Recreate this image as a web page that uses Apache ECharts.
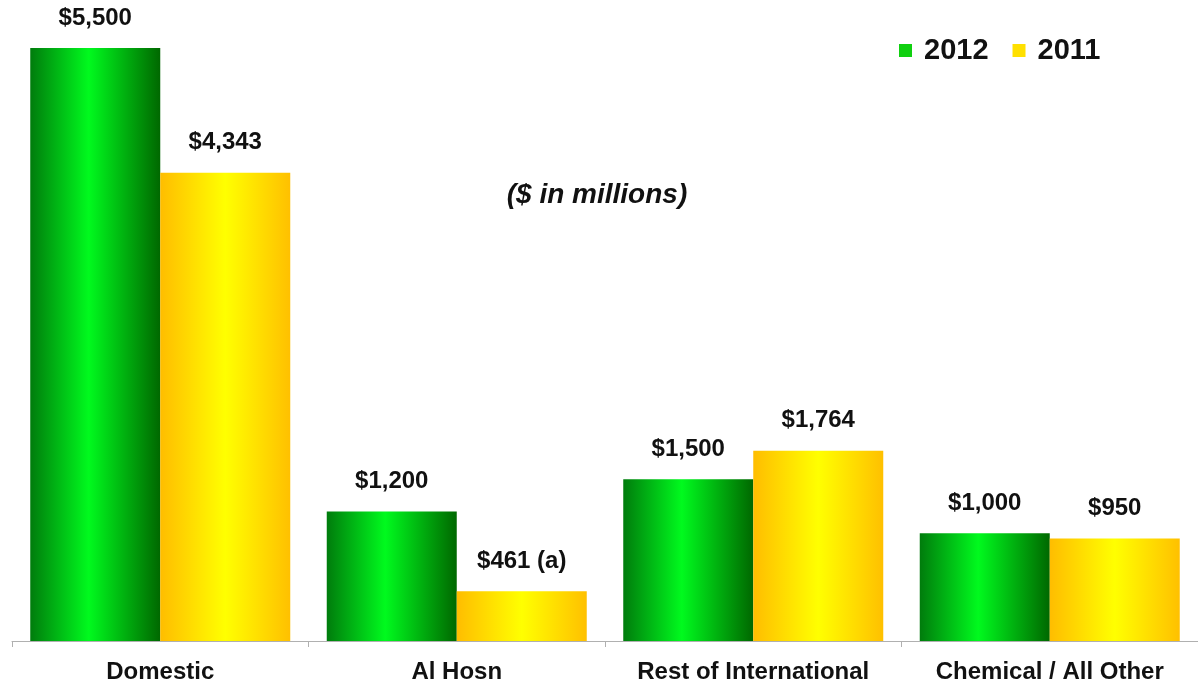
<!DOCTYPE html>
<html>
<head>
<meta charset="utf-8">
<script src="https://cdn.jsdelivr.net/npm/echarts@6/dist/echarts.min.js"></script>
<style>
  html, body { margin: 0; padding: 0; background: #fff; }
  #chart { width: 1198px; height: 688px; }
</style>
</head>
<body>
<div id="chart"></div>
<script>
// Segment capital spending, $ in millions
const categories = ['Domestic', 'Al Hosn', 'Rest of International', 'Chemical / All Other'];
const values2012 = [5500, 1200, 1500, 1000];
const values2011 = [4343, 461, 1764, 950];
const labels2011 = ['$4,343', '$461 (a)', '$1,764', '$950'];

const FONT = '"Liberation Sans", Arial, Helvetica, sans-serif';

function money(v) {
  return '$' + v.toLocaleString('en-US');
}

// Horizontal shading across each bar
const greenFill = new echarts.graphic.LinearGradient(0, 0, 1, 0, [
  { offset: 0, color: '#007c0c' },
  { offset: 0.45, color: '#00fa1e' },
  { offset: 1, color: '#006800' }
]);
const yellowFill = new echarts.graphic.LinearGradient(0, 0, 1, 0, [
  { offset: 0, color: '#ffbd00' },
  { offset: 0.5, color: '#ffff00' },
  { offset: 1, color: '#ffc000' }
]);

const valueLabel = {
  show: true,
  position: 'top',
  distance: 18,
  color: '#111',
  fontFamily: FONT,
  fontWeight: 'bold',
  fontSize: 24
};

const chart = echarts.init(document.getElementById('chart'), null, { renderer: 'canvas' });
chart.setOption({
  animation: false,
  backgroundColor: '#ffffff',
  title: {
    text: '($ in millions)',
    left: 592,
    top: 176,
    textAlign: 'center',
    textStyle: {
      fontFamily: FONT,
      fontStyle: 'italic',
      fontWeight: 'bold',
      fontSize: 28,
      color: '#111'
    }
  },
  legend: {
    left: 894,
    top: 31,
    icon: 'rect',
    itemWidth: 13,
    itemHeight: 13,
    itemGap: 24,
    textStyle: {
      fontFamily: FONT,
      fontWeight: 'bold',
      fontSize: 29,
      color: '#111',
      padding: [0, 0, 0, 7]
    },
    data: [
      { name: '2012', itemStyle: { color: '#10d010' } },
      { name: '2011', itemStyle: { color: '#ffe000' } }
    ]
  },
  grid: { left: 12, right: -3, top: 48, bottom: 47, containLabel: false },
  xAxis: {
    type: 'category',
    data: categories,
    axisLine: { lineStyle: { color: '#b0b0b0', width: 1 } },
    axisTick: { show: true, length: 6, lineStyle: { color: '#b0b0b0' } },
    axisLabel: {
      margin: 19,
      interval: 0,
      color: '#111',
      fontFamily: FONT,
      fontWeight: 'bold',
      fontSize: 24
    }
  },
  yAxis: {
    type: 'value',
    min: 0,
    max: 5500,
    show: false,
    splitLine: { show: false }
  },
  series: [
    {
      name: '2012',
      type: 'bar',
      data: values2012,
      barWidth: 130,
      barGap: '0%',
      itemStyle: { color: greenFill },
      label: Object.assign({}, valueLabel, {
        formatter: p => money(p.value)
      })
    },
    {
      name: '2011',
      type: 'bar',
      data: values2011,
      barWidth: 130,
      itemStyle: { color: yellowFill },
      label: Object.assign({}, valueLabel, {
        formatter: p => labels2011[p.dataIndex]
      })
    }
  ]
});
</script>
</body>
</html>
